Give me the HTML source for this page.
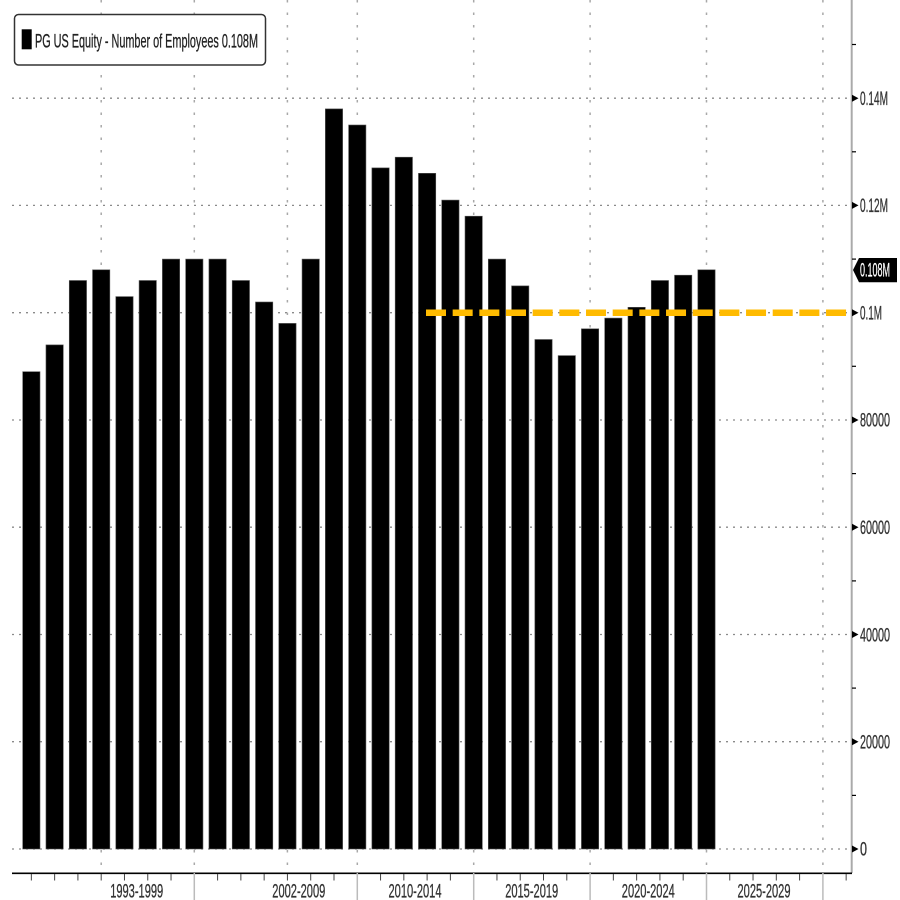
<!DOCTYPE html>
<html>
<head>
<meta charset="utf-8">
<style>
  html, body { margin: 0; padding: 0; background: #ffffff; }
  svg { display: block; }
  text { font-family: "Liberation Sans Narrow", "Liberation Sans", sans-serif; }
</style>
</head>
<body>
<svg width="900" height="900" viewBox="0 0 900 900" xmlns="http://www.w3.org/2000/svg">
  <rect x="0" y="0" width="900" height="900" fill="#ffffff"/>

  <!-- horizontal dotted gridlines -->
  <g stroke="#8a8a8a" stroke-width="1.3" stroke-dasharray="2 5">
    <line x1="12" y1="849" x2="851" y2="849"/>
    <line x1="12" y1="741.7" x2="851" y2="741.7"/>
    <line x1="12" y1="634.5" x2="851" y2="634.5"/>
    <line x1="12" y1="527.2" x2="851" y2="527.2"/>
    <line x1="12" y1="420" x2="851" y2="420"/>
    <line x1="12" y1="312.7" x2="851" y2="312.7"/>
    <line x1="12" y1="205.4" x2="851" y2="205.4"/>
    <line x1="12" y1="98.2" x2="851" y2="98.2"/>
  </g>

  <!-- vertical dotted gridlines -->
  <g stroke="#a8a8a8" stroke-width="1.5" stroke-dasharray="2.5 10">
    <line x1="101.2" y1="0" x2="101.2" y2="873"/>
    <line x1="194.3" y1="0" x2="194.3" y2="873"/>
    <line x1="287.4" y1="0" x2="287.4" y2="873"/>
    <line x1="357.3" y1="0" x2="357.3" y2="873"/>
    <line x1="473.7" y1="0" x2="473.7" y2="873"/>
    <line x1="590.1" y1="0" x2="590.1" y2="873"/>
    <line x1="706.5" y1="0" x2="706.5" y2="873"/>
    <line x1="822.9" y1="0" x2="822.9" y2="873"/>
  </g>

  <!-- bars -->
  <g fill="#000000" stroke="#555" stroke-width="0.6">
    <rect x="22.7" y="371.7" width="17.3" height="477.3"/>
    <rect x="45.98" y="344.9" width="17.3" height="504.1"/>
    <rect x="69.26" y="280.5" width="17.3" height="568.5"/>
    <rect x="92.54" y="269.8" width="17.3" height="579.2"/>
    <rect x="115.82" y="296.6" width="17.3" height="552.4"/>
    <rect x="139.1" y="280.5" width="17.3" height="568.5"/>
    <rect x="162.38" y="259.1" width="17.3" height="589.9"/>
    <rect x="185.66" y="259.1" width="17.3" height="589.9"/>
    <rect x="208.94" y="259.1" width="17.3" height="589.9"/>
    <rect x="232.22" y="280.5" width="17.3" height="568.5"/>
    <rect x="255.5" y="302.0" width="17.3" height="547.0"/>
    <rect x="278.78" y="323.4" width="17.3" height="525.6"/>
    <rect x="302.06" y="259.1" width="17.3" height="589.9"/>
    <rect x="325.34" y="108.9" width="17.3" height="740.1"/>
    <rect x="348.62" y="125.0" width="17.3" height="724.0"/>
    <rect x="371.9" y="167.9" width="17.3" height="681.1"/>
    <rect x="395.18" y="157.2" width="17.3" height="691.8"/>
    <rect x="418.46" y="173.3" width="17.3" height="675.7"/>
    <rect x="441.74" y="200.1" width="17.3" height="648.9"/>
    <rect x="465.02" y="216.2" width="17.3" height="632.8"/>
    <rect x="488.3" y="259.1" width="17.3" height="589.9"/>
    <rect x="511.58" y="285.9" width="17.3" height="563.1"/>
    <rect x="534.86" y="339.5" width="17.3" height="509.5"/>
    <rect x="558.14" y="355.6" width="17.3" height="493.4"/>
    <rect x="581.42" y="328.8" width="17.3" height="520.2"/>
    <rect x="604.7" y="318.1" width="17.3" height="530.9"/>
    <rect x="627.98" y="307.3" width="17.3" height="541.7"/>
    <rect x="651.26" y="280.5" width="17.3" height="568.5"/>
    <rect x="674.54" y="275.2" width="17.3" height="573.8"/>
    <rect x="697.82" y="269.8" width="17.3" height="579.2"/>
  </g>

  <!-- yellow dashed reference line -->
  <line x1="426" y1="312.7" x2="848" y2="312.7" stroke="#ffbb00" stroke-width="6.5" stroke-dasharray="20 6.67"/>

  <!-- right axis line -->
  <line x1="851.7" y1="0" x2="851.7" y2="873" stroke="#aaaaaa" stroke-width="2"/>

  <!-- right axis minor ticks -->
  <g stroke="#000" stroke-width="1.2">
    <line x1="852" y1="795.4" x2="856" y2="795.4"/>
    <line x1="852" y1="688.1" x2="856" y2="688.1"/>
    <line x1="852" y1="580.9" x2="856" y2="580.9"/>
    <line x1="852" y1="473.6" x2="856" y2="473.6"/>
    <line x1="852" y1="366.3" x2="856" y2="366.3"/>
    <line x1="852" y1="259.1" x2="856" y2="259.1"/>
    <line x1="852" y1="151.8" x2="856" y2="151.8"/>
    <line x1="852" y1="44.5" x2="856" y2="44.5"/>
  </g>

  <!-- right axis triangle markers -->
  <g fill="#000">
    <polygon points="852,845.5 858.5,849 852,852.5"/>
    <polygon points="852,738.2 858.5,741.7 852,745.2"/>
    <polygon points="852,631 858.5,634.5 852,638"/>
    <polygon points="852,523.7 858.5,527.2 852,530.7"/>
    <polygon points="852,416.5 858.5,420 852,423.5"/>
    <polygon points="852,309.2 858.5,312.7 852,316.2"/>
    <polygon points="852,201.9 858.5,205.4 852,208.9"/>
    <polygon points="852,94.7 858.5,98.2 852,101.7"/>
  </g>

  <!-- right axis labels -->
  <g fill="#333" stroke="#333" stroke-width="0.3" font-size="19">
    <text x="860" y="855.5" textLength="7" lengthAdjust="spacingAndGlyphs">0</text>
    <text x="860" y="748.5" textLength="30" lengthAdjust="spacingAndGlyphs">20000</text>
    <text x="860" y="641.3" textLength="30" lengthAdjust="spacingAndGlyphs">40000</text>
    <text x="860" y="534" textLength="30" lengthAdjust="spacingAndGlyphs">60000</text>
    <text x="860" y="426.7" textLength="30" lengthAdjust="spacingAndGlyphs">80000</text>
    <text x="860" y="319.5" textLength="22" lengthAdjust="spacingAndGlyphs">0.1M</text>
    <text x="860" y="212.2" textLength="28" lengthAdjust="spacingAndGlyphs">0.12M</text>
    <text x="860" y="105" textLength="28" lengthAdjust="spacingAndGlyphs">0.14M</text>
  </g>

  <!-- last value label -->
  <polygon points="853,270 859,258 897,258 897,282.3 859,282.3" fill="#000"/>
  <text x="860" y="276.7" fill="#fff" stroke="#fff" stroke-width="0.3" font-size="19" textLength="30" lengthAdjust="spacingAndGlyphs">0.108M</text>

  <!-- bottom axis -->
  <line x1="12" y1="873.3" x2="852" y2="873.3" stroke="#000" stroke-width="1.6"/>

  <!-- major x ticks -->
  <g stroke="#bbbbbb" stroke-width="1.5">
    <line x1="194.3" y1="873" x2="194.3" y2="900"/>
    <line x1="357.3" y1="873" x2="357.3" y2="900"/>
    <line x1="473.7" y1="873" x2="473.7" y2="900"/>
    <line x1="590.1" y1="873" x2="590.1" y2="900"/>
    <line x1="706.5" y1="873" x2="706.5" y2="900"/>
    <line x1="822.9" y1="873" x2="822.9" y2="900"/>
  </g>

  <!-- minor x ticks -->
  <g stroke="#444" stroke-width="1">
    <line x1="31.35" y1="874" x2="31.35" y2="880.5"/>
    <line x1="54.63" y1="874" x2="54.63" y2="880.5"/>
    <line x1="77.91" y1="874" x2="77.91" y2="880.5"/>
    <line x1="101.19" y1="874" x2="101.19" y2="880.5"/>
    <line x1="124.47" y1="874" x2="124.47" y2="880.5"/>
    <line x1="147.75" y1="874" x2="147.75" y2="880.5"/>
    <line x1="171.03" y1="874" x2="171.03" y2="880.5"/>
    <line x1="217.59" y1="874" x2="217.59" y2="880.5"/>
    <line x1="240.87" y1="874" x2="240.87" y2="880.5"/>
    <line x1="264.15" y1="874" x2="264.15" y2="880.5"/>
    <line x1="287.43" y1="874" x2="287.43" y2="880.5"/>
    <line x1="310.71" y1="874" x2="310.71" y2="880.5"/>
    <line x1="333.99" y1="874" x2="333.99" y2="880.5"/>
    <line x1="380.55" y1="874" x2="380.55" y2="880.5"/>
    <line x1="403.83" y1="874" x2="403.83" y2="880.5"/>
    <line x1="427.11" y1="874" x2="427.11" y2="880.5"/>
    <line x1="450.39" y1="874" x2="450.39" y2="880.5"/>
    <line x1="496.95" y1="874" x2="496.95" y2="880.5"/>
    <line x1="520.23" y1="874" x2="520.23" y2="880.5"/>
    <line x1="543.51" y1="874" x2="543.51" y2="880.5"/>
    <line x1="566.79" y1="874" x2="566.79" y2="880.5"/>
    <line x1="613.35" y1="874" x2="613.35" y2="880.5"/>
    <line x1="636.63" y1="874" x2="636.63" y2="880.5"/>
    <line x1="659.91" y1="874" x2="659.91" y2="880.5"/>
    <line x1="683.19" y1="874" x2="683.19" y2="880.5"/>
    <line x1="729.75" y1="874" x2="729.75" y2="880.5"/>
    <line x1="753.03" y1="874" x2="753.03" y2="880.5"/>
    <line x1="776.31" y1="874" x2="776.31" y2="880.5"/>
    <line x1="799.59" y1="874" x2="799.59" y2="880.5"/>
    <line x1="846.15" y1="874" x2="846.15" y2="880.5"/>
  </g>

  <!-- x labels -->
  <g fill="#333" stroke="#333" stroke-width="0.3" font-size="19" text-anchor="middle">
    <text x="136.7" y="897.3" textLength="53" lengthAdjust="spacingAndGlyphs">1993-1999</text>
    <text x="298.8" y="897.3" textLength="53" lengthAdjust="spacingAndGlyphs">2002-2009</text>
    <text x="415" y="897.3" textLength="53" lengthAdjust="spacingAndGlyphs">2010-2014</text>
    <text x="531.7" y="897.3" textLength="53" lengthAdjust="spacingAndGlyphs">2015-2019</text>
    <text x="648.3" y="897.3" textLength="53" lengthAdjust="spacingAndGlyphs">2020-2024</text>
    <text x="764" y="897.3" textLength="53" lengthAdjust="spacingAndGlyphs">2025-2029</text>
  </g>

  <!-- legend -->
  <rect x="14.5" y="14.5" width="251" height="50.5" rx="4" ry="4" fill="#ffffff" stroke="#333" stroke-width="1.5"/>
  <rect x="21.7" y="29.3" width="10" height="20" fill="#000"/>
  <text x="35" y="47.7" fill="#222" stroke="#222" stroke-width="0.3" font-size="19" textLength="223" lengthAdjust="spacingAndGlyphs">PG US Equity - Number of Employees 0.108M</text>
</svg>
</body>
</html>
